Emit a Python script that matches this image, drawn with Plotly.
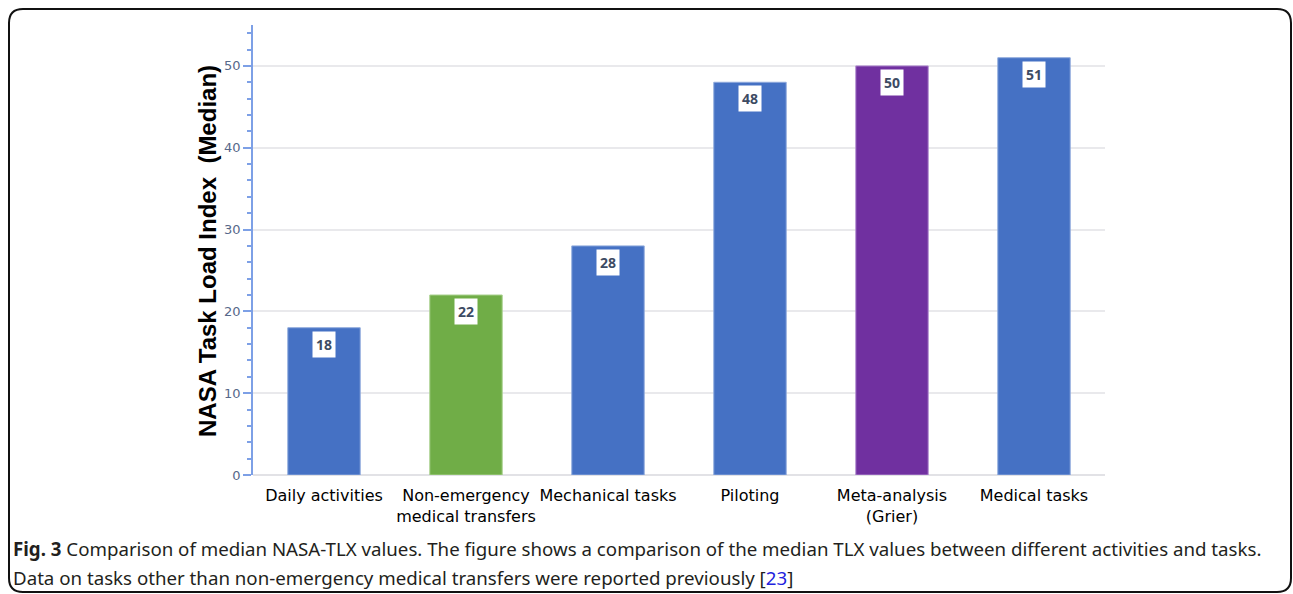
import plotly.graph_objects as go

categories = ["Daily activities", "Non-emergency<br>medical transfers", "Mechanical tasks",
              "Piloting", "Meta-analysis<br>(Grier)", "Medical tasks"]
values = [18, 22, 28, 48, 50, 51]
bar_colors = ["#4571C4", "#70AD47", "#4571C4", "#4571C4", "#7030A0", "#4571C4"]
line_colors = ["#8FAADC", "#A9D18E", "#8FAADC", "#8FAADC", "#B08BCF", "#8FAADC"]
y_ticks = [0, 10, 20, 30, 40, 50]

W, H = 1293, 594

def px(x):
    return x / W

def py(y):
    return 1 - y / H

fig = go.Figure()
fig.add_trace(go.Bar(
    x=categories, y=values,
    marker=dict(color=bar_colors, line=dict(color=line_colors, width=1)),
    hoverinfo="skip", showlegend=False,
))

for c, v in zip(categories, values):
    fig.add_annotation(
        x=c, y=v, xref="x", yref="y", text=f"<b>{v}</b>", showarrow=False,
        yanchor="top", yshift=-3, bgcolor="white", borderpad=3,
        font=dict(family="Noto Sans", size=14, color="#3D4B63"),
    )

fig.add_annotation(
    x=px(207), y=py(251), xref="paper", yref="paper",
    text="<b>NASA Task Load Index  (Median)</b>", textangle=-90, showarrow=False,
    font=dict(family="Liberation Sans", size=24, color="black"),
    xanchor="center", yanchor="middle",
)

caption1 = "<b>Fig. 3</b> Comparison of median NASA-TLX values. The figure shows a comparison of the median TLX values between different activities and tasks."
caption2 = "Data on tasks other than non-emergency medical transfers were reported previously [<span style='color:#2222DD'>23</span>]"
fig.add_annotation(x=px(11), y=py(548), xref="paper", yref="paper", text=caption1,
                   showarrow=False, xanchor="left", yanchor="middle",
                   font=dict(family="Noto Sans", size=18.7, color="#231F20"))
fig.add_annotation(x=px(11), y=py(577), xref="paper", yref="paper", text=caption2,
                   showarrow=False, xanchor="left", yanchor="middle",
                   font=dict(family="Noto Sans", size=18.7, color="#231F20"))

# rounded frame
x0, y0, x1, y1, r = 9, 9, 1291, 592, 14
path = (f"M {px(x0 + r)} {py(y0)} L {px(x1 - r)} {py(y0)} "
        f"Q {px(x1)} {py(y0)} {px(x1)} {py(y0 + r)} "
        f"L {px(x1)} {py(y1 - r)} Q {px(x1)} {py(y1)} {px(x1 - r)} {py(y1)} "
        f"L {px(x0 + r)} {py(y1)} Q {px(x0)} {py(y1)} {px(x0)} {py(y1 - r)} "
        f"L {px(x0)} {py(y0 + r)} Q {px(x0)} {py(y0)} {px(x0 + r)} {py(y0)} Z")
fig.add_shape(type="path", path=path, xref="paper", yref="paper",
              line=dict(color="#111111", width=2), layer="below")

fig.update_layout(
    width=W, height=H, margin=dict(l=0, r=0, t=0, b=0),
    paper_bgcolor="white", plot_bgcolor="white",
    bargap=0.49,
    xaxis=dict(domain=[px(253), px(1105)], showline=False, ticks="",
               ticklabelstandoff=9,
               tickfont=dict(family="DejaVu Sans", size=16, color="black"),
               showgrid=False, automargin=False),
    yaxis=dict(domain=[py(475), py(25)], range=[0, 55], tickvals=y_ticks,
               showline=True, linecolor="#7DA0E6", linewidth=1.5,
               ticks="outside", ticklen=8, tickcolor="#7DA0E6", tickwidth=1.5,
               minor=dict(dtick=2, ticks="outside", ticklen=4, tickcolor="#7DA0E6", showgrid=False),
               showgrid=True, gridcolor="#E9E9EC", gridwidth=1.5,
               zeroline=True, zerolinecolor="#E2E2E6", zerolinewidth=1.5,
               automargin=False,
               tickfont=dict(family="DejaVu Sans", size=13, color="#56688A")),
)

fig.write_html("out.html", config={"displayModeBar": False},
               post_script="document.body.style.margin='0';document.body.style.overflow='hidden';")
